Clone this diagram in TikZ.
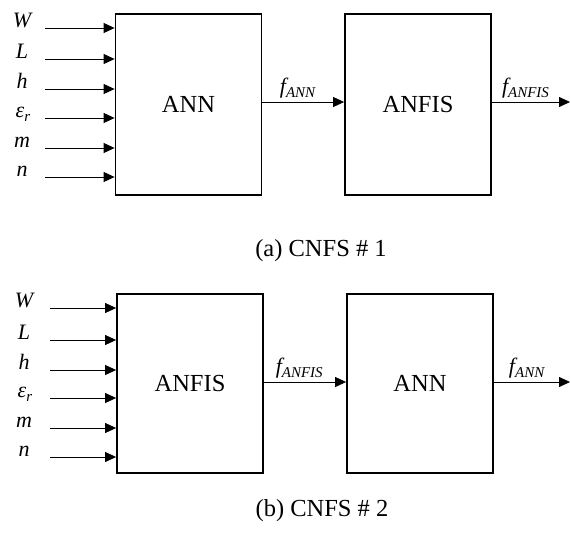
\documentclass[tikz,border=0pt]{standalone}
\usepackage{fontspec}
\setmainfont{Liberation Serif}
\usetikzlibrary{arrows.meta, positioning}

\newcommand{\sbs}[1]{\raisebox{-0.4ex}{\fontsize{15}{15}\selectfont\itshape #1}}

\begin{document}
\begin{tikzpicture}[x=1pt, y=-1pt, >={Triangle[length=11pt,width=10pt]},
    block/.style={draw, line width=1.8pt, minimum width=146pt, minimum height=181pt,
                  font=\fontsize{24.5}{28}\selectfont},
    inp/.style={font=\fontsize{22}{24}\selectfont\itshape, anchor=base},
    sig/.style={font=\fontsize{22}{24}\selectfont\itshape, anchor=base, pos=0.43, yshift=9pt},
    captext/.style={font=\fontsize{24.5}{28}\selectfont},
    wire/.style={->, line width=0.8pt}]

    \useasboundingbox (0,0) rectangle (571,542);

    % (a) ANN followed by ANFIS
    \node [block] (ann1) at (188.5,104.5) {ANN};
    \node [block] (anfis1) at (418,104.5) {ANFIS};
    \coordinate (w1) at (45,28);
    \coordinate (l1) at (45,59);
    \coordinate (h1) at (45,89);
    \coordinate (e1) at (45,118);
    \coordinate (m1) at (45,148);
    \coordinate (n1) at (45,177);
    \coordinate (out1) at (570,102);
    \node [inp] (lw1) at (22,27) {W};
    \node [inp] (ll1) at (22,58) {L};
    \node [inp] (lh1) at (22,88) {h};
    \node [inp] (le1) at (23,117) {ε\sbs{r}};
    \node [inp] (lm1) at (22,147) {m};
    \node [inp] (ln1) at (22,176) {n};
 \path[wire]
      (w1) edge (w1 -| ann1.west)
      (l1) edge (l1 -| ann1.west)
      (h1) edge (h1 -| ann1.west)
      (e1) edge (e1 -| ann1.west)
      (m1) edge (m1 -| ann1.west)
      (n1) edge (n1 -| ann1.west)
      (ann1.east |- out1) edge node [sig] {f\sbs{ANN}} (anfis1.west |- out1)
      (anfis1.east |- out1) edge node [sig] {f\sbs{ANFIS}} (out1);
    \node [captext] (capa) at (321,251) {(a) CNFS \# 1};

    % (b) ANFIS followed by ANN
    \node [block, minimum height=179pt] (anfis2) at (190,383.5) {ANFIS};
    \node [block, minimum height=179pt] (ann2) at (420,383.5) {ANN};
    \coordinate (w2) at (50,308);
    \coordinate (l2) at (50,340);
    \coordinate (h2) at (50,370);
    \coordinate (e2) at (50,398);
    \coordinate (m2) at (50,428);
    \coordinate (n2) at (50,457);
    \coordinate (out2) at (570,382);
    \node [inp] (lw2) at (24,307) {W};
    \node [inp] (ll2) at (24,339) {L};
    \node [inp] (lh2) at (24,369) {h};
    \node [inp] (le2) at (25,397) {ε\sbs{r}};
    \node [inp] (lm2) at (24,427) {m};
    \node [inp] (ln2) at (24,456) {n};
 \path[wire]
      (w2) edge (w2 -| anfis2.west)
      (l2) edge (l2 -| anfis2.west)
      (h2) edge (h2 -| anfis2.west)
      (e2) edge (e2 -| anfis2.west)
      (m2) edge (m2 -| anfis2.west)
      (n2) edge (n2 -| anfis2.west)
      (anfis2.east |- out2) edge node [sig] {f\sbs{ANFIS}} (ann2.west |- out2)
      (ann2.east |- out2) edge node [sig] {f\sbs{ANN}} (out2);
    \node [captext] (capb) at (322,511) {(b) CNFS \# 2};
\end{tikzpicture}
\end{document}
